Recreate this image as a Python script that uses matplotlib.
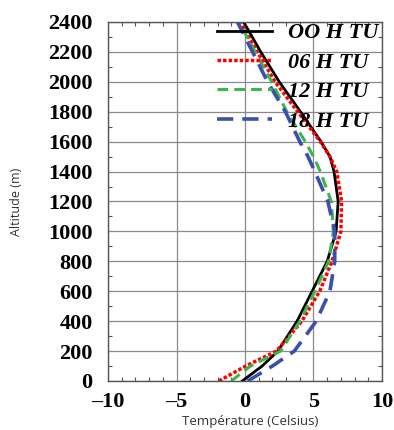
import numpy as np
import matplotlib
matplotlib.use("Agg")
import matplotlib.pyplot as plt
from matplotlib.ticker import MultipleLocator

# altitudes (m) and temperature profiles (Celsius)
alt = [0, 100, 200, 400, 600, 800, 1000, 1200, 1400, 1500, 1600, 1800, 2000, 2200, 2400]
t00 = [-0.2, 1.25, 2.4, 3.8, 4.9, 6.0, 6.65, 6.8, 6.5, 6.2, 5.55, 4.05, 2.5, 1.15, -0.1]
t06 = [-1.9, 0.05, 2.3, 4.15, 5.45, 6.35, 7.0, 7.05, 6.7, 6.2, 5.5, 3.85, 2.2, 0.9, -0.35]
t12 = [-1.0, 0.4, 2.6, 4.0, 5.1, 6.1, 6.45, 6.3, 5.5, 5.0, 4.4, 3.05, 1.95, 0.75, -0.45]
t18 = [0.2, 2.0, 3.6, 5.2, 6.2, 6.55, 6.55, 6.05, 5.1, 4.6, 4.0, 2.95, 1.65, 0.55, -0.55]
labels = ["OO H TU", "06 H TU", "12 H TU", "18 H TU"]

xticks = [-10, -5, 0, 5, 10]
yticks = list(range(0, 2401, 200))

fig = plt.figure(figsize=(3.94, 4.30), dpi=100)
ax = fig.add_axes([108 / 394, 1 - 381 / 430, 274 / 394, 359 / 430])

ax.plot(t00, alt, color="black", lw=2, label=labels[0])
ax.plot(t06, alt, color="red", lw=2.5, ls=(0, (1, 0.6)), label=labels[1])
ax.plot(t12, alt, color="#3cb54a", lw=2.2, ls=(0, (3.5, 2)), label=labels[2])
ax.plot(t18, alt, color="#3a4fb0", lw=2.6, ls=(0, (4.5, 2.5)), label=labels[3])

ax.set_xlim(-10, 10)
ax.set_ylim(0, 2400)
ax.set_xticks(xticks)
ax.set_yticks(yticks)
ax.set_xticklabels([("\u2013" + str(-v)) if v < 0 else str(v) for v in xticks])
ax.xaxis.set_minor_locator(MultipleLocator(1))
ax.yaxis.set_minor_locator(MultipleLocator(100))
ax.tick_params(which="both", direction="in", top=True, right=True, color="#555555")
ax.tick_params(axis="y", which="major", length=0, pad=11)
ax.tick_params(axis="x", which="major", length=0, pad=8)
ax.tick_params(which="minor", length=3, width=0.8)
for lab in ax.get_xticklabels() + ax.get_yticklabels():
    lab.set_fontfamily("Liberation Serif")
    lab.set_fontweight("bold")
    lab.set_fontsize(16)
ax.grid(True, color="#8a8a8a", lw=0.9)
ax.set_axisbelow(True)
for s in ax.spines.values():
    s.set_color("#555555")
    s.set_linewidth(1)

ax.set_ylabel("Altitude (m)", family="Open Sans", fontsize=9, color="#333333")
ax.yaxis.set_label_coords(-0.31, 0.5)
ax.set_xlabel("Température (Celsius)", family="Open Sans", fontsize=9.5, color="#333333")
ax.xaxis.set_label_coords(0.52, -0.095)

leg = ax.legend(loc="upper right", bbox_to_anchor=(1.035, 1.035), frameon=False,
                prop={"family": "Liberation Serif", "style": "italic", "weight": "bold", "size": 16},
                handlelength=2.5, handletextpad=0.7, labelspacing=0.4, borderaxespad=0.2)

fig.savefig("out.png", dpi=100)
